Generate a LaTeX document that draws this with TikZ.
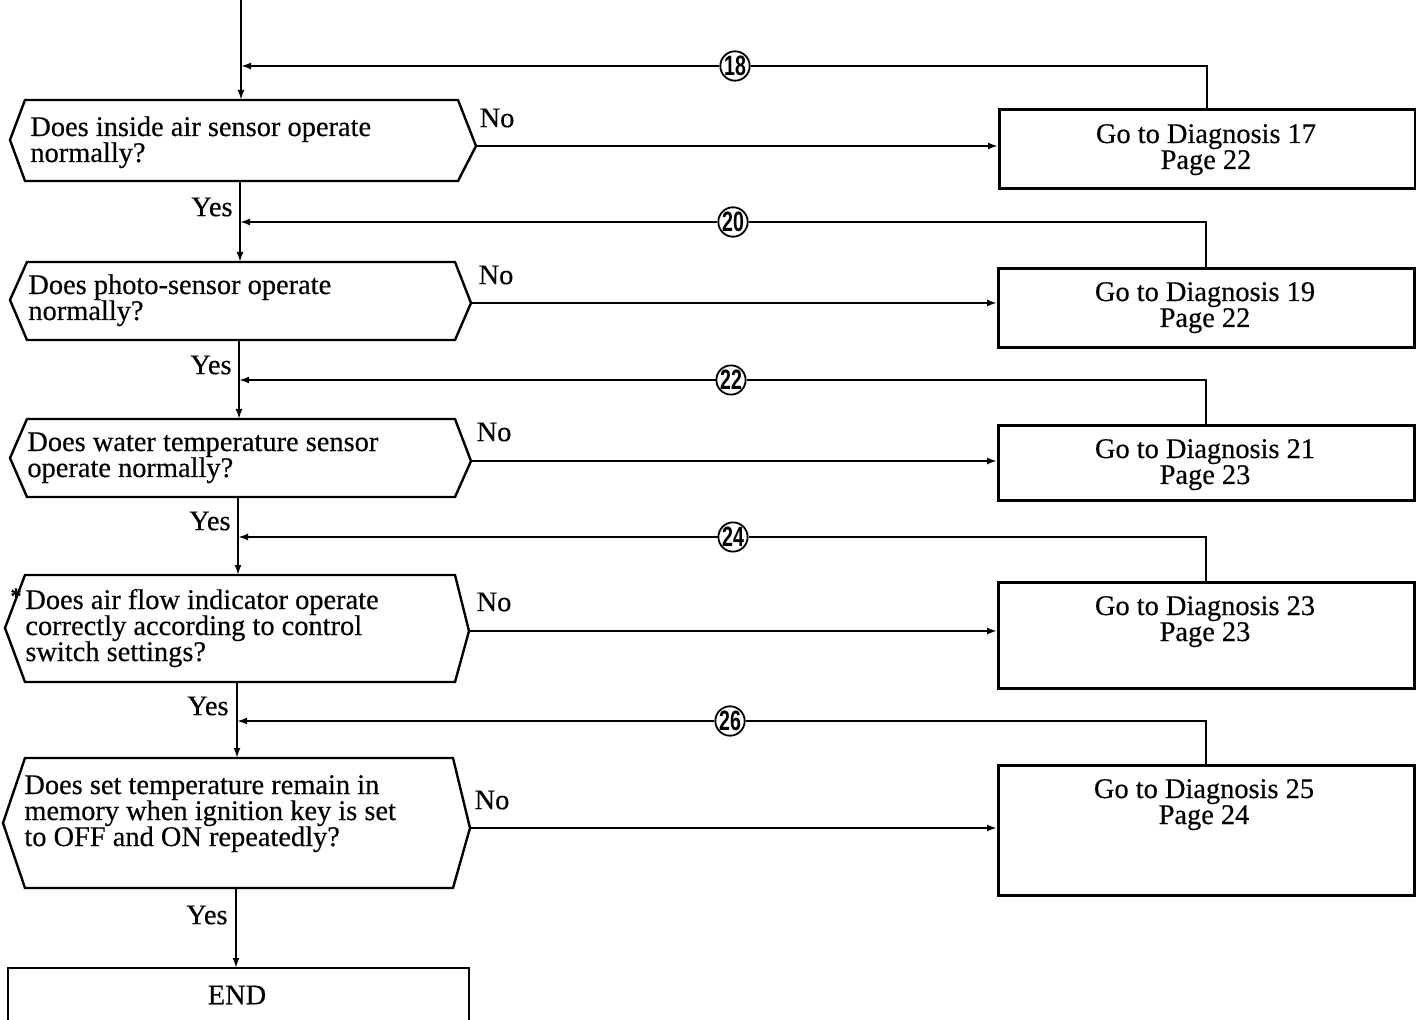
\documentclass[tikz,border=0pt]{standalone}
\usepackage{fontspec}
\setmainfont{Liberation Serif}[FakeBold=0.4]
\newfontfamily\circfont{Liberation Sans}
\usepackage{graphicx}
\usetikzlibrary{arrows.meta,calc}
\begin{document}
\begin{tikzpicture}[x=0.5pt,y=-0.5pt,
  hexq/.style={line width=1.2pt, line join=miter},
  qtext/.style={align=left, inner sep=0pt, anchor=base west, font=\fontsize{14.2}{13}\selectfont},
  gobox/.style={draw, line width=1.4pt, anchor=north west, minimum width=208pt, inner sep=0pt},
  gotext/.style={align=center, inner sep=0pt, anchor=base, font=\fontsize{14.2}{13}\selectfont},
  lab/.style={inner sep=0pt, font=\fontsize{14.2}{13}\selectfont},
  conn/.style={line width=1pt},
  arr/.style={conn, -{Latex[length=5pt,width=3.5pt]}},
  circnum/.style={circle, draw, line width=0.9pt, fill=white, minimum size=14pt, inner sep=0pt, font=\circfont\bfseries\fontsize{14}{14}\selectfont}
]
\fill[white] (0,0) rectangle (1416,1020);
\useasboundingbox (0,0) rectangle (1416,1020);

% ---------- Go-to boxes ----------
\node[gobox, minimum height=39.5pt] (b1) at (998,108) {};
\node[gotext] (b1t) at (1206,169) {Go to Diagnosis 17\\Page 22};
\node[gobox, minimum height=39.5pt] (b2) at (997,267) {};
\node[gotext] (b2t) at (1205,327) {Go to Diagnosis 19\\Page 22};
\node[gobox, minimum height=37.5pt] (b3) at (997,424) {};
\node[gotext] (b3t) at (1205,484) {Go to Diagnosis 21\\Page 23};
\node[gobox, minimum height=53pt] (b4) at (997,581) {};
\node[gotext] (b4t) at (1205,641) {Go to Diagnosis 23\\Page 23};
\node[gobox, minimum height=65pt] (b5) at (997,764) {};
\node[gotext] (b5t) at (1204,824) {Go to Diagnosis 25\\Page 24};

% ---------- Questions ----------
\draw[hexq] (25,100) -- (458,100) -- (476,146) coordinate (q1r) -- (458,181) -- (25,181) -- (10,140) coordinate (q1l) -- cycle;
\node[qtext] (t1) at (30,162) {Does inside air sensor operate\\normally?};
\coordinate (q1t) at (241,100); \coordinate (q1b) at (240,181);

\draw[hexq] (27,262) -- (455,262) -- (471,303) coordinate (q2r) -- (455,340) -- (27,340) -- (10,300) coordinate (q2l) -- cycle;
\node[qtext] (t2) at (28,320) {Does photo-sensor operate\\normally?};
\coordinate (q2t) at (240,262); \coordinate (q2b) at (239,340);

\draw[hexq] (27,419) -- (455,419) -- (471,461) coordinate (q3r) -- (455,497) -- (27,497) -- (10,458) coordinate (q3l) -- cycle;
\node[qtext] (t3) at (27,477) {Does water temperature sensor\\operate normally?};
\coordinate (q3t) at (239,419); \coordinate (q3b) at (238,497);

\draw[hexq] (25,575) -- (455,575) -- (469,631) coordinate (q4r) -- (455,682) -- (25,682) -- (5,628) coordinate (q4l) -- cycle;
\node[qtext] (t4) at (25,661) {Does air flow indicator operate\\correctly according to control\\switch settings?};
\node[lab, font=\bfseries\fontsize{11}{11}\selectfont] (ast) at (16,596) {*};
\coordinate (q4t) at (238,575); \coordinate (q4b) at (237,682);

\draw[hexq] (25,758) -- (453,758) -- (470,828) coordinate (q5r) -- (453,888) -- (25,888) -- (3,823) coordinate (q5l) -- cycle;
\node[qtext] (t5) at (24,846) {Does set temperature remain in\\memory when ignition key is set\\to OFF and ON repeatedly?};
\coordinate (q5t) at (237,758); \coordinate (q5b) at (236,888);

% ---------- END ----------
\draw[line width=1.4pt] (8,968) coordinate (endtl) rectangle (469,1030);
\node[lab] (endt) at (237,995) {END};
\coordinate (endt0) at (236,968);

% ---------- Main flow ----------
\coordinate (start) at (241,0);
\draw[arr] (start) -- (q1t);
\draw[arr] (q1b) -- (q2t);
\draw[arr] (q2b) -- (q3t);
\draw[arr] (q3b) -- (q4t);
\draw[arr] (q4b) -- (q5t);
\draw[arr] (q5b) -- (endt0);

% Yes labels
\node[lab, anchor=east] (y1) at (233,207) {Yes};
\node[lab, anchor=east] (y2) at (232,365) {Yes};
\node[lab, anchor=east] (y3) at (231,521) {Yes};
\node[lab, anchor=east] (y4) at (229,706) {Yes};
\node[lab, anchor=east] (y5) at (228,915) {Yes};

% No branches
\draw[arr] (q1r) -- (q1r -| b1.west);
\draw[arr] (q2r) -- (q2r -| b2.west);
\draw[arr] (q3r) -- (q3r -| b3.west);
\draw[arr] (q4r) -- (q4r -| b4.west);
\draw[arr] (q5r) -- (q5r -| b5.west);
\node[lab] (n1) at (497,118) {No};
\node[lab] (n2) at (496,275) {No};
\node[lab] (n3) at (494,432) {No};
\node[lab] (n4) at (494,602) {No};
\node[lab] (n5) at (492,800) {No};

% ---------- Return loops ----------
\coordinate (m1) at (241,66);
\coordinate (m2) at (240,222);
\coordinate (m3) at (239,380);
\coordinate (m4) at (238,537);
\coordinate (m5) at (237,721);
\node[circnum] (c18) at (735,66) {\scalebox{0.7}[1]{18}};
\node[circnum] (c20) at (733,222) {\scalebox{0.7}[1]{20}};
\node[circnum] (c22) at (731,380) {\scalebox{0.7}[1]{22}};
\node[circnum] (c24) at (733,537) {\scalebox{0.7}[1]{24}};
\node[circnum] (c26) at (730,721) {\scalebox{0.7}[1]{26}};
\draw[conn] (b1.north) |- (c18.east);
\draw[arr] (c18.west) -- (m1);
\draw[conn] (b2.north) |- (c20.east);
\draw[arr] (c20.west) -- (m2);
\draw[conn] (b3.north) |- (c22.east);
\draw[arr] (c22.west) -- (m3);
\draw[conn] (b4.north) |- (c24.east);
\draw[arr] (c24.west) -- (m4);
\draw[conn] (b5.north) |- (c26.east);
\draw[arr] (c26.west) -- (m5);
\end{tikzpicture}
\end{document}
